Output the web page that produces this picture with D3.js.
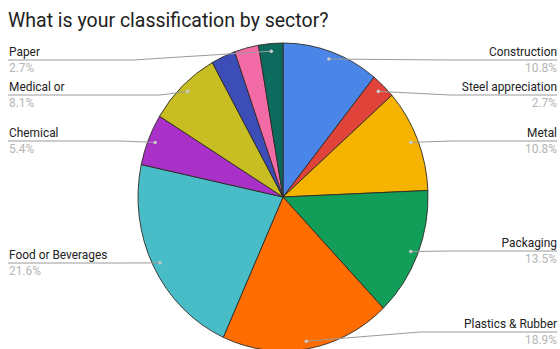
<!DOCTYPE html>
<html><head><meta charset="utf-8">
<script src="https://cdn.jsdelivr.net/npm/d3@7/dist/d3.min.js"></script>
<style>html,body{margin:0;padding:0;background:#fff;}svg{display:block;font-family:Roboto,"Noto Sans",sans-serif;}</style>
</head><body>
<script>
// Data
const categories = ["Construction","Steel appreciation","Metal","Packaging","Plastics & Rubber","Food or Beverages","Chemical","Medical or","Other A","Other B","Paper"];
const counts = [4,1,4,5,7,8,2,3,1,1,1];
const colors = ["#4a86e8","#e0433a","#f6b400","#129d58","#ff6d00","#48bdc7","#a931c8","#c8bd22","#3d4db7","#f26aa6","#0c6b5c"];
const labelled = ["Construction","Steel appreciation","Metal","Packaging","Plastics & Rubber","Food or Beverages","Chemical","Medical or","Paper"];
// label layout: side, underline y, bend x
const labelLayout = {
  "Construction": {side:"right", y:60, bend:450},
  "Steel appreciation": {side:"right", y:95, bend:450},
  "Metal": {side:"right", y:141, bend:450},
  "Packaging": {side:"right", y:251, bend:450},
  "Plastics & Rubber": {side:"right", y:332, bend:420},
  "Food or Beverages": {side:"left", y:263, bend:120},
  "Chemical": {side:"left", y:141, bend:120},
  "Medical or": {side:"left", y:95, bend:160},
  "Paper": {side:"left", y:60, bend:133}
};

const W=560,H=349, cx=283, cy=197, rx=145, ry=154;
const sy = ry/rx;
const svg = d3.select("body").append("svg").attr("width",W).attr("height",H);

svg.append("text").attr("x",8).attr("y",27).attr("font-size",19.5).attr("fill","#222")
  .text("What is your classification by sector?");

const total = d3.sum(counts);
const pie = d3.pie().sort(null).value(d=>d)(counts);
const arc = d3.arc().innerRadius(0).outerRadius(rx);
const g = svg.append("g").attr("transform",`translate(${cx},${cy}) scale(1,${sy})`);
g.selectAll("path").data(pie).join("path")
  .attr("d",arc).attr("fill",(d,i)=>colors[i])
  .attr("stroke","#2e2a26").attr("stroke-width",0.9).attr("vector-effect","non-scaling-stroke");

const dotArc = d3.arc().innerRadius(rx*0.95).outerRadius(rx*0.95);
const fmt = v => (Math.round(v/total*1000)/10).toFixed(1)+"%";

pie.forEach((d,i)=>{
  const name = categories[i];
  if(!labelled.includes(name)) return;
  const L = labelLayout[name];
  const c = dotArc.centroid(d);
  const px = cx + c[0], py = cy + c[1]*sy;
  const x0 = L.side==="left" ? 8 : 557;
  svg.append("polyline")
    .attr("points",`${x0},${L.y} ${L.bend},${L.y} ${px},${py}`)
    .attr("fill","none").attr("stroke","#9a9a9a").attr("stroke-width",1);
  svg.append("circle").attr("cx",px).attr("cy",py).attr("r",1.8).attr("fill","#c8c8c8");
  const anchor = L.side==="left" ? "start":"end";
  const tx = L.side==="left" ? 9 : 557;
  svg.append("text").attr("x",tx).attr("y",L.y-4.5).attr("font-size",11.9).attr("fill","#222")
    .attr("text-anchor",anchor).text(name);
  svg.append("text").attr("x",tx).attr("y",L.y+11.5).attr("font-size",11.9).attr("fill","#b5b5b5")
    .attr("text-anchor",anchor).text(fmt(counts[i]));
});
</script>
</body></html>
